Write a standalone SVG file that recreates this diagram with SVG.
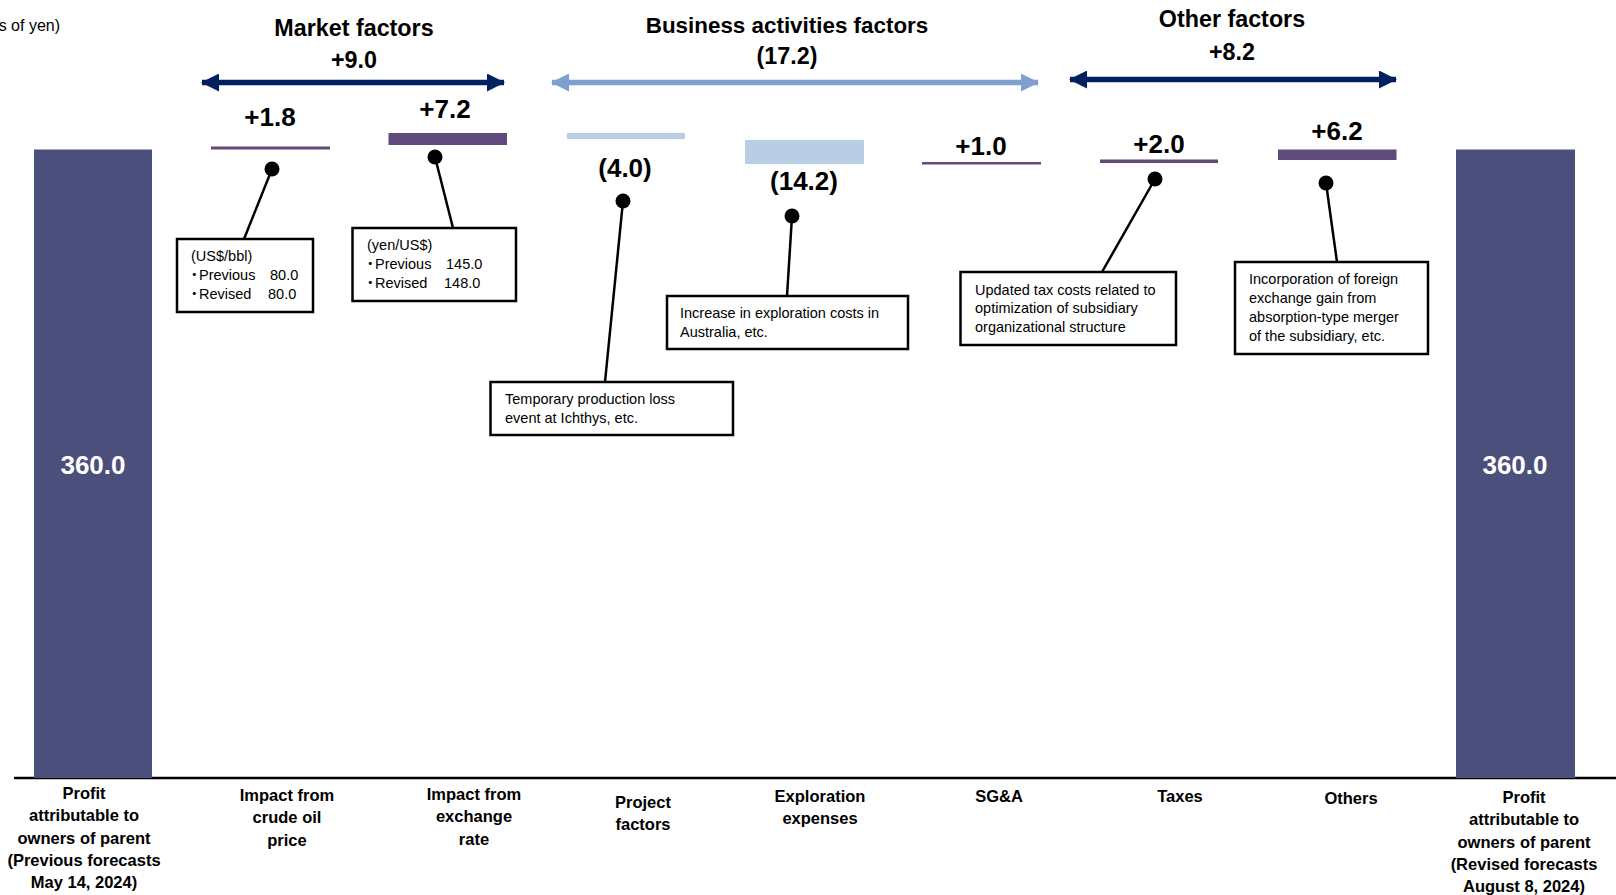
<svg xmlns="http://www.w3.org/2000/svg" width="1616" height="895" viewBox="0 0 1616 895">
<style>
.t{font-family:"Liberation Sans",Arial,sans-serif;fill:#000}
.hd{font-size:23.3px;font-weight:bold;text-anchor:middle}
.hd2{font-size:22.4px}
.val{font-size:26px;font-weight:bold;text-anchor:middle}
.cat{font-size:16.5px;font-weight:bold;text-anchor:middle}
.note{font-size:14.5px}
.j{font-family:"Liberation Sans","Noto Sans CJK JP",sans-serif}
.box{fill:#fff;stroke:#000;stroke-width:2.5}
.lead{stroke:#000;stroke-width:2.5;fill:none}
.dot{fill:#000}
.total{fill:#4B4F7C}
.pos{fill:#604A7B}
.neg{fill:#B9CDE5}
.big{font-family:"Liberation Sans",Arial,sans-serif;font-size:26px;font-weight:bold;fill:#fff;text-anchor:middle}
</style>
<defs>
<marker id="hn" viewBox="0 0 18 18" markerUnits="userSpaceOnUse" markerWidth="18" markerHeight="18" refX="17" refY="9" orient="auto-start-reverse"><path d="M0,0 L18,9 L0,18 Z" fill="#002060"/></marker>
<marker id="hb" viewBox="0 0 18 18" markerUnits="userSpaceOnUse" markerWidth="18" markerHeight="18" refX="17" refY="9" orient="auto-start-reverse"><path d="M0,0 L18,9 L0,18 Z" fill="#7F9FD0"/></marker>
</defs>
<rect width="1616" height="895" fill="#fff"/>
<text class="t" x="60" y="31" font-size="16" text-anchor="end">s of yen)</text>

<g id="axis"><line x1="14" y1="778" x2="1616" y2="778" stroke="#000" stroke-width="2.5"/></g>

<g id="group-market">
<text class="t hd" x="354" y="36">Market factors</text>
<text class="t hd" x="354" y="68">+9.0</text>
</g>
<g id="group-business">
<text class="t hd hd2" x="787" y="33">Business activities factors</text>
<text class="t hd" x="787" y="64">(17.2)</text>
</g>
<g id="group-other">
<text class="t hd" x="1232" y="27">Other factors</text>
<text class="t hd" x="1232" y="60">+8.2</text>
</g>

<g id="connectors">
<line x1="202" y1="82.5" x2="504" y2="82.5" stroke="#002060" stroke-width="5.5" marker-start="url(#hn)" marker-end="url(#hn)"/>
<line x1="552" y1="82.5" x2="1038" y2="82.5" stroke="#7F9FD0" stroke-width="5.5" marker-start="url(#hb)" marker-end="url(#hb)"/>
<line x1="1070" y1="79.5" x2="1396" y2="79.5" stroke="#002060" stroke-width="5.5" marker-start="url(#hn)" marker-end="url(#hn)"/>
<line class="lead" x1="272" y1="169" x2="244" y2="239"/>
<line class="lead" x1="435" y1="157" x2="453" y2="228"/>
<line class="lead" x1="623" y1="201" x2="605" y2="382"/>
<line class="lead" x1="792" y1="216" x2="787" y2="296"/>
<line class="lead" x1="1155" y1="179" x2="1102" y2="272"/>
<line class="lead" x1="1326" y1="183" x2="1337" y2="262"/>
<circle class="dot" cx="272" cy="169" r="7.5"/>
<circle class="dot" cx="435" cy="157" r="7.5"/>
<circle class="dot" cx="623" cy="201" r="7.5"/>
<circle class="dot" cx="792" cy="216" r="7.5"/>
<circle class="dot" cx="1155" cy="179" r="7.5"/>
<circle class="dot" cx="1326" cy="183" r="7.5"/>
</g>

<g id="bar-prev">
<rect class="total" x="34" y="149.5" width="118" height="628.5"/>
<text class="big" x="93" y="474">360.0</text>
<text class="t cat" x="84"><tspan x="84" y="799">Profit</tspan><tspan x="84" y="821">attributable to</tspan><tspan x="84" y="844">owners of parent</tspan><tspan x="84" y="866">(Previous forecasts</tspan><tspan x="84" y="888">May 14, 2024)</tspan></text>
</g>

<g id="bar-oil">
<rect class="pos" x="211" y="146.5" width="119" height="3"/>
<text class="t val" x="270" y="126">+1.8</text>
<text class="t cat"><tspan x="287" y="801">Impact from</tspan><tspan x="287" y="823">crude oil</tspan><tspan x="287" y="846">price</tspan></text>
</g>
<g id="note-oil">
<rect class="box" x="177" y="239" width="136" height="73"/>
<text class="t note j"><tspan x="191" y="261">(US$/bbl)</tspan><tspan x="187" y="280">・</tspan><tspan x="199" y="280">Previous</tspan><tspan x="270" y="280">80.0</tspan><tspan x="187" y="299">・</tspan><tspan x="199" y="299">Revised</tspan><tspan x="268" y="299">80.0</tspan></text>
</g>

<g id="bar-fx">
<rect class="pos" x="388.5" y="133" width="118.5" height="12"/>
<text class="t val" x="445" y="118">+7.2</text>
<text class="t cat"><tspan x="474" y="800">Impact from</tspan><tspan x="474" y="822">exchange</tspan><tspan x="474" y="845">rate</tspan></text>
</g>
<g id="note-fx">
<rect class="box" x="352.5" y="228" width="163.5" height="73"/>
<text class="t note j"><tspan x="367" y="250">(yen/US$)</tspan><tspan x="363" y="269">・</tspan><tspan x="375" y="269">Previous</tspan><tspan x="446" y="269">145.0</tspan><tspan x="363" y="288">・</tspan><tspan x="375" y="288">Revised</tspan><tspan x="444" y="288">148.0</tspan></text>
</g>

<g id="bar-project">
<rect class="neg" x="567" y="133" width="118" height="6"/>
<text class="t val" x="625" y="177">(4.0)</text>
<text class="t cat"><tspan x="643" y="808">Project</tspan><tspan x="643" y="830">factors</tspan></text>
</g>
<g id="note-project">
<rect class="box" x="490.5" y="382" width="242.5" height="53"/>
<text class="t note"><tspan x="505" y="404">Temporary production loss</tspan><tspan x="505" y="423">event at Ichthys, etc.</tspan></text>
</g>

<g id="bar-exploration">
<rect class="neg" x="745" y="140" width="119" height="24"/>
<text class="t val" x="804" y="190">(14.2)</text>
<text class="t cat"><tspan x="820" y="802">Exploration</tspan><tspan x="820" y="824">expenses</tspan></text>
</g>
<g id="note-exploration">
<rect class="box" x="667" y="296" width="241" height="53"/>
<text class="t note"><tspan x="680" y="318">Increase in exploration costs in</tspan><tspan x="680" y="337">Australia, etc.</tspan></text>
</g>

<g id="bar-sga">
<rect class="pos" x="922" y="162" width="119" height="2.5"/>
<text class="t val" x="981" y="155">+1.0</text>
<text class="t cat" x="999" y="802">SG&amp;A</text>
</g>

<g id="bar-taxes">
<rect class="pos" x="1100" y="159.5" width="118" height="3.5"/>
<text class="t val" x="1159" y="153">+2.0</text>
<text class="t cat" x="1180" y="802">Taxes</text>
</g>
<g id="note-taxes">
<rect class="box" x="960.5" y="272" width="215.5" height="73"/>
<text class="t note"><tspan x="975" y="295">Updated tax costs related to</tspan><tspan x="975" y="313">optimization of subsidiary</tspan><tspan x="975" y="332">organizational structure</tspan></text>
</g>

<g id="bar-others">
<rect class="pos" x="1278" y="149.5" width="118.5" height="10.5"/>
<text class="t val" x="1337" y="140">+6.2</text>
<text class="t cat" x="1351" y="804">Others</text>
</g>
<g id="note-others">
<rect class="box" x="1235" y="262" width="193" height="92"/>
<text class="t note"><tspan x="1249" y="284">Incorporation of foreign</tspan><tspan x="1249" y="303">exchange gain from</tspan><tspan x="1249" y="322">absorption-type merger</tspan><tspan x="1249" y="341">of the subsidiary, etc.</tspan></text>
</g>

<g id="bar-revised">
<rect class="total" x="1456" y="149.5" width="119" height="628.5"/>
<text class="big" x="1515" y="474">360.0</text>
<text class="t cat"><tspan x="1524" y="803">Profit</tspan><tspan x="1524" y="825">attributable to</tspan><tspan x="1524" y="848">owners of parent</tspan><tspan x="1524" y="870">(Revised forecasts</tspan><tspan x="1524" y="892">August 8, 2024)</tspan></text>
</g>
</svg>
